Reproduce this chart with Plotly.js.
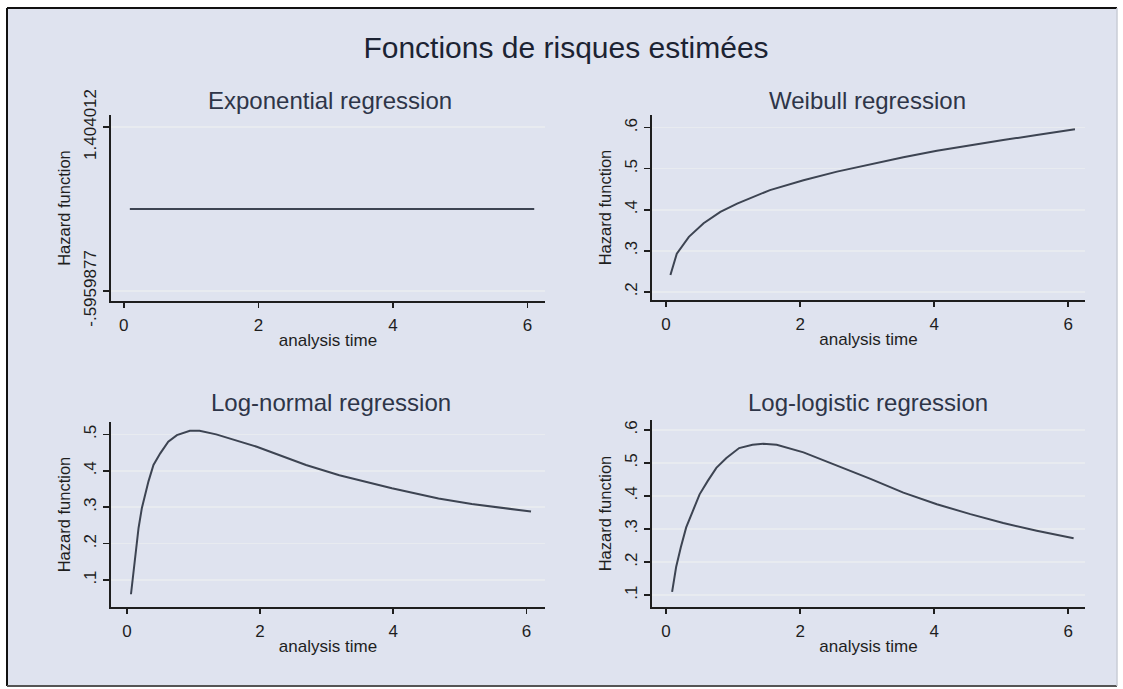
<!DOCTYPE html>
<html>
<head>
<meta charset="utf-8">
<script src="https://cdn.plot.ly/plotly-3.0.1.min.js"></script>
<style>html,body{margin:0;padding:0;background:#fff;}#chart{width:1123px;height:689px;}</style>
</head>
<body>
<div id="chart"></div>
<script>
// ---- data ----
const mainTitle = "Fonctions de risques estimées";
const panelTitles = ["Exponential regression", "Weibull regression", "Log-normal regression", "Log-logistic regression"];
const xTitle = "analysis time";
const yTitle = "Hazard function";
const xTickVals = [0, 2, 4, 6];
const xTickText = ["0", "2", "4", "6"];

const timeExp = [0.09, 1, 2, 3, 4, 5, 6.1];
const hazardExp = [0.404012, 0.404012, 0.404012, 0.404012, 0.404012, 0.404012, 0.404012];
const expTickVals = [-0.5959877, 1.404012];
const expTickText = ["-.5959877", "1.404012"];

const timeWeibull = [0.065, 0.16, 0.34, 0.56, 0.81, 1.06, 1.55, 2.05, 2.55, 3.05, 3.54, 4.04, 4.54, 5.03, 5.53, 6.1];
const hazardWeibull = [0.241, 0.293, 0.334, 0.367, 0.395, 0.415, 0.448, 0.472, 0.493, 0.511, 0.528, 0.544, 0.558, 0.570, 0.582, 0.596];
const weibullTickVals = [0.2, 0.3, 0.4, 0.5, 0.6];
const weibullTickText = [".2", ".3", ".4", ".5", ".6"];

const timeLognormal = [0.06, 0.124, 0.174, 0.224, 0.274, 0.323, 0.398, 0.5, 0.62, 0.75, 0.945, 1.09, 1.34, 1.49, 1.95, 2.69, 3.19, 3.98, 4.68, 5.18, 6.07];
const hazardLognormal = [0.061, 0.17, 0.243, 0.298, 0.334, 0.371, 0.416, 0.448, 0.48, 0.498, 0.51, 0.51, 0.50, 0.492, 0.466, 0.416, 0.388, 0.352, 0.324, 0.309, 0.288];
const lognormalTickVals = [0.1, 0.2, 0.3, 0.4, 0.5];
const lognormalTickText = [".1", ".2", ".3", ".4", ".5"];

const timeLoglogistic = [0.09, 0.15, 0.22, 0.30, 0.40, 0.50, 0.62, 0.75, 0.90, 1.09, 1.29, 1.45, 1.65, 2.05, 2.55, 3.05, 3.54, 4.04, 4.54, 5.03, 5.53, 6.08];
const hazardLoglogistic = [0.11, 0.185, 0.245, 0.305, 0.355, 0.405, 0.445, 0.485, 0.515, 0.545, 0.555, 0.558, 0.555, 0.532, 0.492, 0.452, 0.41, 0.375, 0.345, 0.318, 0.295, 0.272];
const loglogisticTickVals = [0.1, 0.2, 0.3, 0.4, 0.5, 0.6];
const loglogisticTickText = [".1", ".2", ".3", ".4", ".5", ".6"];

// ---- styling ----
const W = 1123, H = 689;
const FONT = "Liberation Sans, Arial, Helvetica, sans-serif";
const lineColor = "#3d4452";
const axisColor = "#1e1e1e";
const gridColor = "#e8ebf0";
const bgColor = "#dfe3ef";
const textColor = "#1c2333";

function px(x) { return x / W; }
function py(y) { return (H - y) / H; }

function xAxis(domain, range, anchor) {
  return {
    domain: domain, range: range, anchor: anchor,
    tickvals: xTickVals, ticktext: xTickText,
    ticks: "outside", ticklen: 5, tickwidth: 1.5, tickcolor: axisColor,
    showline: true, linecolor: axisColor, linewidth: 2,
    showgrid: false, zeroline: false,
    tickfont: {family: FONT, size: 17, color: axisColor},
    ticklabelstandoff: 3,
    title: {text: xTitle, font: {family: FONT, size: 17, color: axisColor}, standoff: 0},
    fixedrange: true
  };
}
function yAxis(domain, range, anchor, vals, text) {
  return {
    domain: domain, range: range, anchor: anchor,
    tickvals: vals, ticktext: text, tickangle: -90,
    ticks: "outside", ticklen: 6, tickwidth: 1.5, tickcolor: axisColor,
    showline: true, linecolor: axisColor, linewidth: 2,
    showgrid: true, gridcolor: gridColor, gridwidth: 1.5, zeroline: false,
    tickfont: {family: FONT, size: 17, color: axisColor},
    title: {text: yTitle, font: {family: FONT, size: 16.5, color: axisColor}, standoff: 6},
    fixedrange: true
  };
}

function trace(x, y, xa, ya) {
  return {x: x, y: y, xaxis: xa, yaxis: ya, type: "scatter", mode: "lines",
          line: {color: lineColor, width: 2}, hoverinfo: "skip", showlegend: false};
}

const data = [
  trace(timeExp, hazardExp, "x", "y"),
  trace(timeWeibull, hazardWeibull, "x2", "y2"),
  trace(timeLognormal, hazardLognormal, "x3", "y3"),
  trace(timeLoglogistic, hazardLoglogistic, "x4", "y4")
];

const dX1 = [px(111), px(545)], dX2 = [px(652), px(1085)];
const dY1 = [py(301), py(115)], dY2 = [py(300), py(115)];
const dY3 = [py(607), py(422)], dY4 = [py(607), py(420)];

function subTitle(text, x, y) {
  return {text: text, xref: "paper", yref: "paper", x: px(x), y: py(y),
          xanchor: "center", yanchor: "middle", showarrow: false,
          font: {family: FONT, size: 24, color: "#2e3548"}};
}

const layout = {
  width: W, height: H,
  margin: {l: 0, r: 0, t: 0, b: 0},
  paper_bgcolor: "#ffffff", plot_bgcolor: "#ffffff",
  showlegend: false,
  title: {text: mainTitle, x: px(566), xanchor: "center", y: py(47), yanchor: "middle",
          font: {family: FONT, size: 30, color: textColor}},
  xaxis: xAxis(dX1, [-0.19, 6.26], "y"),
  yaxis: yAxis(dY1, [-0.718, 1.55], "x", expTickVals, expTickText),
  xaxis2: xAxis(dX2, [-0.21, 6.25], "y2"),
  yaxis2: yAxis(dY2, [0.18, 0.631], "x2", weibullTickVals, weibullTickText),
  xaxis3: xAxis(dX1, [-0.24, 6.28], "y3"),
  yaxis3: yAxis(dY3, [0.026, 0.534], "x3", lognormalTickVals, lognormalTickText),
  xaxis4: xAxis(dX2, [-0.21, 6.25], "y4"),
  yaxis4: yAxis(dY4, [0.064, 0.63], "x4", loglogisticTickVals, loglogisticTickText),
  annotations: [
    subTitle(panelTitles[0], 330, 100),
    subTitle(panelTitles[1], 867, 100),
    subTitle(panelTitles[2], 331, 402),
    subTitle(panelTitles[3], 868, 402)
  ],
  shapes: [
    {type: "rect", xref: "paper", yref: "paper", x0: px(7), x1: px(1117), y0: py(686), y1: py(8),
     fillcolor: bgColor, line: {width: 0}, layer: "below"},
    {type: "line", xref: "paper", yref: "paper", x0: px(7), x1: px(1117), y0: py(8), y1: py(8),
     line: {color: "#111", width: 2}, layer: "below"},
    {type: "line", xref: "paper", yref: "paper", x0: px(7), x1: px(7), y0: py(8), y1: py(686),
     line: {color: "#111", width: 2}, layer: "below"},
    {type: "line", xref: "paper", yref: "paper", x0: px(7), x1: px(1117), y0: py(686), y1: py(686),
     line: {color: "#555", width: 2}, layer: "below"},
    {type: "line", xref: "paper", yref: "paper", x0: px(1117), x1: px(1117), y0: py(8), y1: py(686),
     line: {color: "#c8ccd6", width: 1.5}, layer: "below"}
  ]
};

Plotly.newPlot("chart", data, layout, {staticPlot: true, displayModeBar: false});
</script>
</body>
</html>
